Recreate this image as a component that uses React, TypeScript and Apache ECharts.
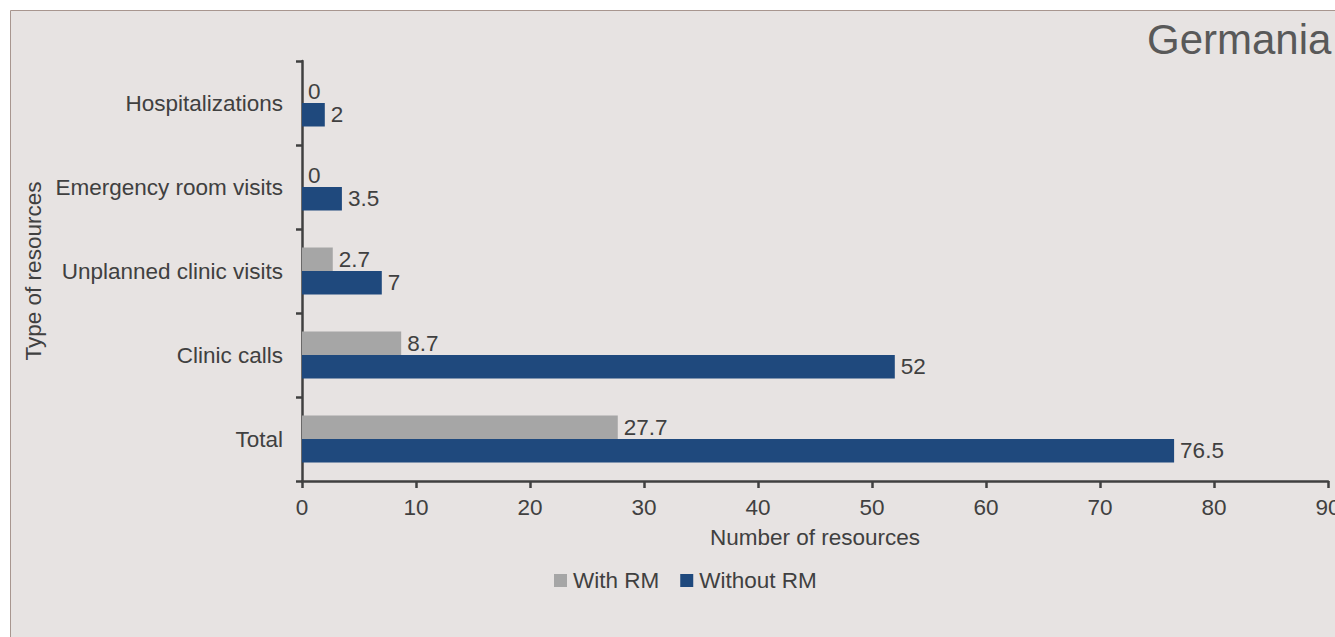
import React, { useEffect, useRef } from "react";
import * as echarts from "echarts";

const categories = ["Total", "Clinic calls", "Unplanned clinic visits", "Emergency room visits", "Hospitalizations"];
const withRM = [27.7, 8.7, 2.7, 0, 0];
const withoutRM = [76.5, 52, 7, 3.5, 2];
const xTicks = { min: 0, max: 90, interval: 10 };
const titleText = "Germania";
const xName = "Number of resources";
const yName = "Type of resources";
const seriesNames = ["With RM", "Without RM"];

const TEXT = "#404040";
const AXIS = "#404040";
const FONT = "Liberation Sans, Arial, sans-serif";
const FS = 22.5;

export default function App() {
  const ref = useRef<HTMLDivElement>(null);
  useEffect(() => {
    const chart = echarts.init(ref.current!, null, { renderer: "svg" });
    chart.setOption({
      animation: false,
      textStyle: { fontFamily: FONT },
      graphic: [
        {
          type: "rect",
          z: -10,
          shape: { x: 10.5, y: 10.5, width: 1400, height: 700 },
          style: { fill: "#e7e3e2", stroke: "#a8968f", lineWidth: 1 },
          silent: true,
        },
        {
          type: "text",
          x: 1147,
          y: 39,
          style: { text: titleText, fontSize: 42, fill: "#595959", fontFamily: FONT, verticalAlign: "middle", align: "left" },
        },
      ],
      legend: {
        data: seriesNames,
        left: 549,
        top: 564,
        icon: "rect",
        itemWidth: 13,
        itemHeight: 13,
        itemGap: 21,
        textStyle: { fontSize: FS, color: TEXT, fontFamily: FONT, padding: [0, 0, 0, 1] },
      },
      grid: { left: 302, right: 7, top: 61, bottom: 156, containLabel: false, outerBoundsMode: "none" },
      xAxis: {
        type: "value",
        min: xTicks.min,
        max: xTicks.max,
        interval: xTicks.interval,
        name: xName,
        nameLocation: "middle",
        nameGap: 45,
        nameTextStyle: { fontSize: FS, color: TEXT, fontFamily: FONT },
        axisLine: { show: true, lineStyle: { color: AXIS, width: 2.5 } },
        axisTick: { show: true, length: 7, lineStyle: { color: AXIS, width: 2.5 } },
        axisLabel: { fontSize: FS, color: TEXT, margin: 15, fontFamily: FONT, hideOverlap: false },
        splitLine: { show: false },
      },
      yAxis: {
        type: "category",
        data: categories,
        name: yName,
        nameLocation: "middle",
        nameGap: 247,
        nameRotate: 90,
        nameTextStyle: { fontSize: FS, color: TEXT, fontFamily: FONT },
        axisLine: { show: true, lineStyle: { color: AXIS, width: 2.5 } },
        axisTick: { show: true, length: 6, lineStyle: { color: AXIS, width: 2.5 } },
        axisLabel: { fontSize: FS, color: TEXT, margin: 19, fontFamily: FONT },
      },
      series: [
        {
          name: seriesNames[0],
          type: "bar",
          data: withRM,
          barWidth: 23.5,
          barGap: "0%",
          itemStyle: { color: "#a6a6a6" },
          label: { show: true, position: "right", distance: 6, fontSize: FS, color: TEXT, fontFamily: FONT },
        },
        {
          name: seriesNames[1],
          type: "bar",
          data: withoutRM,
          barWidth: 23.5,
          barGap: "0%",
          itemStyle: { color: "#1f497d" },
          label: { show: true, position: "right", distance: 6, fontSize: FS, color: TEXT, fontFamily: FONT },
        },
      ],
    });
    return () => chart.dispose();
  }, []);
  return (
    <div
      ref={ref}
      style={{ position: "fixed", left: 0, top: 0, width: 1335, height: 637, background: "#ffffff" }}
    />
  );
}
